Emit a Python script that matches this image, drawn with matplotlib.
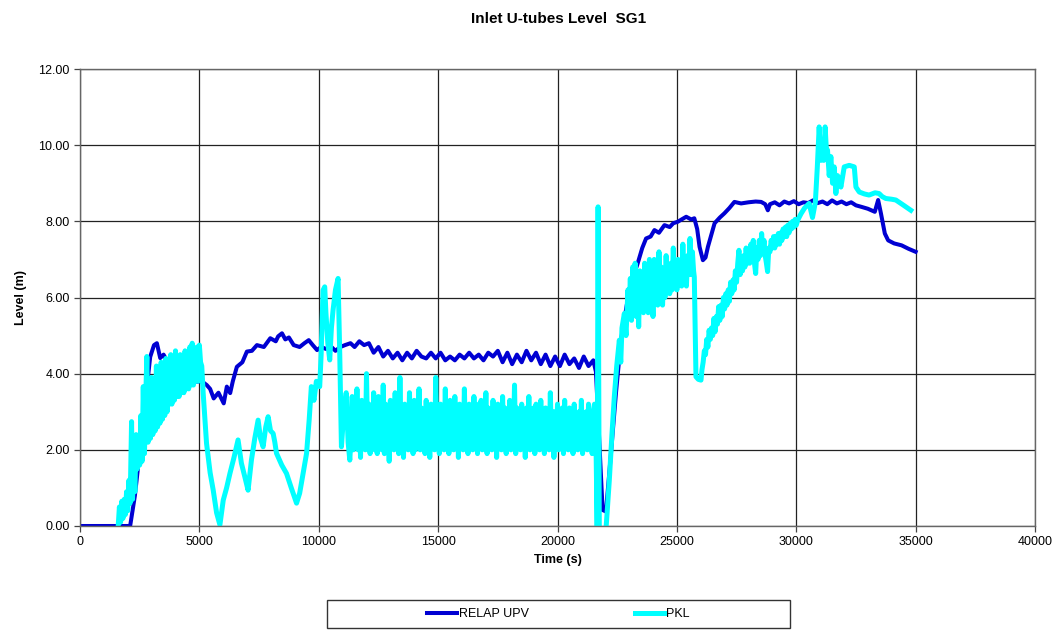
import matplotlib
matplotlib.use("Agg")
import matplotlib.pyplot as plt
from matplotlib.patches import Rectangle

plt.rcParams['font.family'] = ['Liberation Sans Narrow', 'Liberation Sans', 'DejaVu Sans']
plt.rcParams['path.simplify'] = False

# RELAP UPV (time s, level m)
relap_t = [0, 2100, 2300, 2600, 2940, 3100, 3220, 3360, 3500, 3780, 4100, 4500, 4900,
           5100, 5310, 5450, 5600, 5800, 6020, 6150, 6290, 6400, 6570, 6800, 6990, 7200,
           7410, 7700, 7970, 8200, 8300, 8460, 8600, 8750, 8950, 9200, 9400, 9580, 9750,
           9930, 10100, 10300, 10500, 10700, 10900, 11100, 11330, 11500,
           11700, 11900, 12100, 12300, 12500, 12700, 12900, 13100, 13300, 13500, 13700,
           13900, 14100, 14300, 14500, 14700, 14900, 15100, 15300, 15500, 15700, 15900,
           16100, 16300, 16500, 16700, 16900, 17100, 17300, 17500, 17700, 17900, 18100,
           18300, 18500, 18700, 18900, 19100, 19300, 19500, 19700, 19900, 20100, 20300,
           20500, 20700, 20900, 21100, 21300, 21500, 21610,
           21890, 22030, 22240, 22450, 22660, 22900, 23100, 23360, 23550, 23710, 23900,
           24060, 24250, 24480, 24700, 24850, 25040, 25200, 25390, 25600, 25730, 25850,
           25950, 26090, 26200, 26300, 26580, 26800, 26990, 27200, 27410, 27690, 28000,
           28300, 28530, 28700, 28810, 28900, 29100, 29300, 29500, 29700, 29900, 30100,
           30300, 30500, 30700, 30900, 31100, 31300, 31500, 31700, 31900, 32100, 32300,
           32500, 32730, 33000, 33290, 33430, 33550, 33710, 33850, 34100, 34410, 34700,
           35000]
relap_v = [0, 0, 0.8, 2.5, 4.44, 4.75, 4.8, 4.41, 4.5, 4.18, 4.2, 4.1, 3.79,
           3.8, 3.7, 3.6, 3.35, 3.5, 3.22, 3.66, 3.49, 3.8, 4.18, 4.3, 4.58, 4.6,
           4.75, 4.7, 4.93, 4.85, 4.98, 5.06, 4.9, 4.95, 4.75, 4.7, 4.8, 4.88, 4.75,
           4.62, 4.7, 4.65, 4.72, 4.6, 4.7, 4.75, 4.8, 4.7,
           4.85, 4.75, 4.8, 4.55, 4.7, 4.45, 4.6, 4.4, 4.55, 4.35, 4.55,
           4.4, 4.6, 4.45, 4.4, 4.55, 4.4, 4.55, 4.35, 4.45, 4.35, 4.5,
           4.4, 4.55, 4.4, 4.5, 4.35, 4.55, 4.45, 4.6, 4.3, 4.55, 4.25,
           4.5, 4.3, 4.6, 4.35, 4.55, 4.25, 4.5, 4.2, 4.45, 4.2, 4.5,
           4.25, 4.4, 4.15, 4.45, 4.2, 4.35, 4.05,
           0.42, 0.38, 1.91, 3.5, 4.88, 5.8, 6.4, 6.9, 7.3, 7.55, 7.6,
           7.77, 7.7, 7.9, 7.85, 7.95, 7.99, 8.05, 8.12, 8.05, 8.08, 7.8,
           7.33, 6.98, 7.05, 7.33, 7.95, 8.1, 8.21, 8.35, 8.51, 8.47, 8.5,
           8.52, 8.51, 8.45, 8.29, 8.45, 8.5, 8.42, 8.52, 8.47, 8.53, 8.45,
           8.5, 8.48, 8.55, 8.48, 8.52, 8.45, 8.55, 8.47, 8.52, 8.45, 8.5,
           8.42, 8.38, 8.33, 8.25, 8.56, 8.2, 7.68, 7.5, 7.42, 7.37, 7.28,
           7.2]

# PKL measurement (time s, level m)
pkl_t = [1600, 1650, 1700, 1750, 1800, 1850, 1900, 1950, 2000, 2050, 2100, 2160,
         2200, 2250, 2300, 2350,
         2400, 2450, 2500, 2550, 2600, 2650, 2700, 2750, 2800, 2850,
         2900, 2950, 3000, 3050, 3100, 3150, 3200, 3250, 3300, 3350,
         3400, 3450, 3500, 3550, 3600, 3650, 3700, 3750, 3800, 3850,
         3900, 3950, 4000, 4050, 4100, 4150, 4200, 4250, 4300, 4350,
         4400, 4450, 4500, 4550, 4600, 4650, 4700, 4750, 4800, 4850,
         4900, 4950, 5000, 5050, 5100, 5160, 5300,
         5450, 5580, 5720, 5860, 6000, 6140, 6280, 6450, 6620, 6760, 6900, 7040, 7180,
         7320, 7460, 7560, 7670, 7780, 7880, 7980, 8090, 8160, 8230, 8450, 8650, 8850,
         9070, 9200, 9350, 9490, 9600, 9690, 9800, 9900, 10040, 10100, 10180, 10250,
         10300, 10380, 10460, 10530, 10600, 10700, 10810, 10880, 10950, 11050, 11150,
         11230, 11300,
         11350, 11400, 11450, 11500, 11550, 11600, 11650, 11700, 11750, 11800,
         11850, 11900, 11950, 12000, 12050, 12100, 12150, 12200, 12250, 12300,
         12350, 12400, 12450, 12500, 12550, 12600, 12650, 12700, 12750, 12800,
         12850, 12900, 12950, 13000, 13050, 13100, 13150, 13200, 13250, 13300,
         13350, 13400, 13450, 13500, 13550, 13600, 13650, 13700, 13750, 13800,
         13850, 13900, 13950, 14000, 14050, 14100, 14150, 14200, 14250, 14300,
         14350, 14400, 14450, 14500, 14550, 14600, 14650, 14700, 14750, 14800,
         14850, 14900, 14950, 15000, 15050, 15100, 15150, 15200, 15250, 15300,
         15350, 15400, 15450, 15500, 15550, 15600, 15650, 15700, 15750, 15800,
         15850, 15900, 15950, 16000, 16050, 16100, 16150, 16200, 16250, 16300,
         16350, 16400, 16450, 16500, 16550, 16600, 16650, 16700, 16750, 16800,
         16850, 16900, 16950, 17000, 17050, 17100, 17150, 17200, 17250, 17300,
         17350, 17400, 17450, 17500, 17550, 17600, 17650, 17700, 17750, 17800,
         17850, 17900, 17950, 18000, 18050, 18100, 18150, 18200, 18250, 18300,
         18350, 18400, 18450, 18500, 18550, 18600, 18650, 18700, 18750, 18800,
         18850, 18900, 18950, 19000, 19050, 19100, 19150, 19200, 19250, 19300,
         19350, 19400, 19450, 19500, 19550, 19600, 19650, 19700, 19750, 19800,
         19850, 19900, 19950, 20000, 20050, 20100, 20150, 20200, 20250, 20300,
         20350, 20400, 20450, 20500, 20550, 20600, 20650, 20700, 20750, 20800,
         20850, 20900, 20950, 21000, 21050, 21100, 21150, 21200, 21250, 21300,
         21350, 21400, 21450, 21500,
         21550, 21620, 21660, 21700, 21750, 21800, 22000, 22040,
         22170, 22280, 22380, 22480, 22590, 22650, 22700, 22800, 22870,
         22950, 23000, 23050, 23100, 23150, 23200, 23250, 23300, 23350, 23400,
         23450, 23500, 23550, 23600, 23650, 23700, 23750, 23800, 23850, 23900,
         23950, 24000, 24050, 24100, 24150, 24200, 24250, 24300, 24350, 24400,
         24450, 24500, 24550, 24600, 24650, 24700, 24750, 24800, 24850, 24900,
         24950, 25000, 25050, 25100, 25150, 25200, 25250, 25300, 25350, 25400,
         25450, 25500, 25550, 25600, 25650, 25700,
         25730, 25800, 25900, 26010, 26050,
         26100, 26150, 26200, 26250, 26300, 26350, 26400, 26450, 26500, 26550,
         26600, 26650, 26700, 26750, 26800, 26850, 26900, 26950, 27000, 27050,
         27100, 27150, 27200, 27250, 27300, 27350, 27400, 27450, 27500, 27550,
         27600, 27650, 27700, 27750, 27800, 27850, 27900, 27950, 28000, 28050,
         28100, 28150, 28200, 28250, 28300, 28350, 28400, 28450, 28500, 28550,
         28600, 28650, 28700, 28750, 28800, 28850, 28900, 28950, 29000, 29050,
         29100, 29150, 29200, 29250, 29300, 29350, 29400, 29450, 29500, 29550,
         29600, 29650, 29700, 29750, 29800, 29850, 29900, 29950, 30000,
         30060, 30200, 30350, 30540, 30680, 30800, 30880, 30960, 31030, 31100,
         31150, 31210, 31260, 31310, 31380, 31450, 31520, 31590, 31660, 31730, 31800,
         31870, 32010, 32220, 32430, 32500, 32640, 32850, 33050, 33300, 33470, 33600,
         33750, 34000, 34170, 34500, 34800]
pkl_v = [0.0, 0.5, 0.1, 0.65, 0.2, 0.7, 0.3, 0.9, 0.4, 1.2, 0.6, 2.74,
         0.7, 1.6, 0.9, 2.4,
         1.5, 2.3, 1.6, 2.9, 1.7, 3.66, 1.9, 3.3, 4.45, 2.2,
         3.6, 2.3, 3.9, 2.4, 3.4, 2.5, 4.2, 2.6, 3.7, 2.7,
         4.3, 2.8, 3.9, 2.9, 4.4, 3.0, 4.0, 3.2, 4.5, 3.2,
         4.1, 3.3, 4.6, 3.4, 4.2, 3.4, 4.5, 3.5, 4.3, 3.5,
         4.6, 3.6, 4.4, 3.6, 4.7, 3.7, 4.8, 3.7, 4.5, 3.8,
         4.7, 3.8, 4.75, 4.3, 4.2, 3.48, 2.17,
         1.4, 0.94, 0.35, 0.03, 0.68, 1.0, 1.38, 1.8, 2.26, 1.65, 1.3, 0.94, 1.73,
         2.3, 2.78, 2.3, 2.08, 2.6, 2.87, 2.5, 2.43, 2.2, 1.91, 1.6, 1.38, 1.0,
         0.6, 0.86, 1.4, 1.91, 2.8, 3.66, 3.3, 3.8, 3.66, 4.5, 6.19, 6.28,
         5.6, 4.8, 4.36, 5.2, 5.67, 6.2, 6.5, 4.5, 2.08, 3.0, 3.5,
         2.2, 1.73,
         2.3, 3.4, 2.0, 3.1, 2.2, 3.6, 2.0, 3.2, 1.8, 3.3,
         2.1, 3.0, 2.0, 4.0, 2.1, 3.2, 1.9, 3.0, 2.2, 3.5,
         2.0, 3.1, 1.9, 3.4, 2.2, 3.0, 2.0, 3.7, 1.9, 3.2,
         2.1, 3.0, 1.7, 3.3, 2.2, 3.1, 2.0, 3.5, 2.1, 3.1,
         1.9, 3.9, 2.2, 3.0, 1.8, 3.2, 2.1, 3.0, 2.0, 3.5,
         2.2, 3.1, 1.9, 3.3, 2.0, 3.0, 2.2, 3.6, 2.0, 3.1,
         2.1, 3.0, 1.9, 3.3, 2.2, 3.0, 1.8, 3.2, 2.1, 3.0,
         2.0, 3.9, 2.2, 3.0, 1.9, 3.2, 2.1, 3.0, 2.0, 3.6,
         2.2, 3.1, 1.9, 3.3, 2.1, 3.0, 2.0, 3.4, 2.2, 3.0,
         1.8, 3.2, 2.1, 2.9, 2.0, 3.6, 2.2, 3.1, 1.9, 3.2,
         2.1, 3.0, 2.0, 3.4, 2.2, 3.0, 1.9, 3.2, 2.1, 3.3,
         2.0, 3.0, 2.2, 3.5, 1.9, 3.1, 2.1, 3.0, 2.0, 3.3,
         2.2, 3.0, 1.8, 3.2, 2.1, 3.0, 2.0, 3.4, 2.2, 3.1,
         1.9, 3.0, 2.1, 3.3, 2.0, 3.0, 2.2, 3.7, 1.9, 3.1,
         2.1, 2.9, 2.0, 3.2, 2.2, 3.0, 1.8, 3.1, 2.1, 3.4,
         2.0, 2.9, 2.2, 3.1, 1.9, 3.2, 2.1, 2.9, 2.0, 3.3,
         2.2, 3.0, 1.9, 3.1, 2.1, 2.9, 2.0, 3.5, 2.2, 3.0,
         1.8, 3.0, 2.1, 3.2, 2.0, 2.9, 2.2, 3.1, 1.9, 3.3,
         2.1, 2.9, 2.0, 3.1, 2.2, 3.0, 1.9, 3.2, 2.1, 2.9,
         2.0, 3.0, 2.2, 3.3, 1.9, 2.9, 2.1, 3.0, 2.0, 3.2,
         2.2, 3.0, 1.9, 3.0,
         3.2, 1.8, 0.0, 8.38, 0.0, -0.4, -0.4, 0.0,
         1.2, 2.4, 3.4, 4.2, 4.88, 4.3, 5.2, 5.58, 5.0,
         6.2, 5.6, 6.5, 5.4, 6.8, 5.8, 6.9, 5.5, 6.4, 5.23,
         6.7, 5.7, 6.3, 5.6, 6.9, 5.9, 6.5, 5.6, 7.0, 5.9,
         6.6, 5.5, 7.0, 6.0, 6.5, 5.8, 7.2, 6.1, 6.8, 5.8,
         6.6, 6.0, 7.1, 6.2, 6.7, 6.1, 6.9, 6.2, 7.3, 6.3,
         6.8, 6.2, 7.0, 6.4, 6.9, 6.3, 7.4, 6.5, 7.0, 6.3,
         7.1, 6.6, 7.55, 6.6, 7.2, 6.7,
         6.54, 3.92, 3.85, 3.83, 4.1,
         4.3, 4.6, 4.5, 4.9, 4.7, 5.14, 4.9, 5.2, 5.0, 5.45,
         5.1, 5.5, 5.3, 5.76, 5.4, 5.8, 5.5, 6.0, 5.7, 6.1,
         5.8, 6.2, 5.9, 6.4, 6.1, 6.46, 6.2, 6.7, 6.4, 6.9,
         7.24, 6.6, 7.0, 6.7, 7.1, 6.8, 7.3, 6.9, 7.2, 6.9,
         7.4, 7.0, 7.5, 6.9, 6.63, 7.3, 7.0, 7.5, 7.1, 7.68,
         7.2, 7.5, 7.1, 6.9, 6.68, 7.3, 7.2, 7.5, 7.3, 7.6,
         7.3, 7.6, 7.4, 7.68, 7.4, 7.7, 7.5, 7.8, 7.6, 7.85,
         7.6, 7.9, 7.7, 7.95, 7.8, 8.0, 7.85, 8.05, 7.9,
         8.03, 8.2, 8.35, 8.47, 8.1, 8.5, 9.4, 10.48, 9.6, 10.0,
         9.6, 10.48, 9.9, 9.87, 9.2, 9.7, 9.0, 9.43, 8.73, 9.2, 9.1,
         8.9, 9.43, 9.47, 9.43, 8.9, 8.77, 8.72, 8.69, 8.75, 8.73, 8.65,
         8.6, 8.58, 8.56, 8.42, 8.29]

x_ticks = [0, 5000, 10000, 15000, 20000, 25000, 30000, 35000, 40000]
y_ticks = [0, 2, 4, 6, 8, 10, 12]

fig = plt.figure(figsize=(10.61, 6.30), dpi=100)
ax = fig.add_axes([80 / 1061, 1 - 526 / 630, 955 / 1061, 457 / 630])

ax.plot(relap_t, relap_v, color='#0000d2', lw=2.9, label='RELAP UPV', solid_joinstyle='round')
ax.plot(pkl_t, pkl_v, color='#00ffff', lw=3.6, label='PKL', solid_joinstyle='round')

ax.set_xlim(0, 40000)
ax.set_ylim(0, 12)
ax.set_xticks(x_ticks)
ax.set_yticks(y_ticks)
ax.set_yticklabels(['%.2f' % y for y in y_ticks])
ax.grid(True, color='#222222', lw=0.9)
ax.set_axisbelow(True)
for s in ax.spines.values():
    s.set_color('#666666')
    s.set_linewidth(1.0)
ax.tick_params(direction='out', length=4, width=0.9, color='#444444', labelsize=9)

ax.set_xlabel('Time (s)', fontsize=9, fontweight='bold', labelpad=4)
ax.set_ylabel('Level (m)', fontsize=9, fontweight='bold', labelpad=8)
fig.text(0.5264, 1 - 19 / 630, 'Inlet U-tubes Level  SG1', ha='center', va='center',
         fontsize=11, fontweight='bold')

fig.patches.append(Rectangle((327 / 1061, 1 - 628 / 630), 463 / 1061, 28 / 630,
                             transform=fig.transFigure, fill=False, edgecolor='#333333', lw=1))
fig.legend(loc='center', bbox_to_anchor=(0.5264, 1 - 614 / 630), ncol=2, frameon=False,
           fontsize=9, handlelength=2.4, handletextpad=0.1, columnspacing=8.5)

fig.savefig('out.png', dpi=100)
